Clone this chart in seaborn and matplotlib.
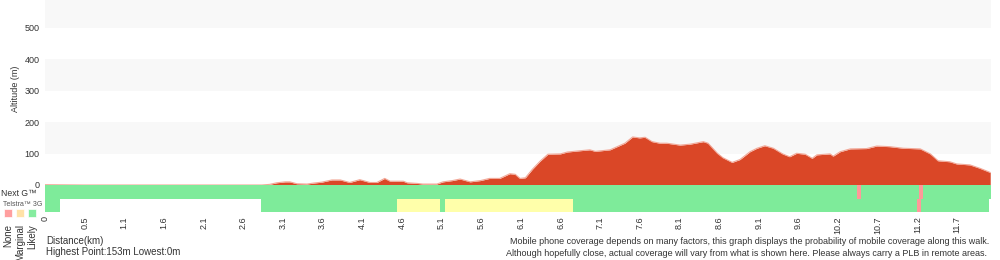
import matplotlib
matplotlib.use("Agg")
import matplotlib.pyplot as plt
import seaborn as sns
import pandas as pd

# ---- data ----
dist_km = [0.0, 0.5, 1.5, 2.5, 2.79, 2.89, 2.98, 3.09, 3.15, 3.24, 3.37, 3.45, 3.56, 3.69, 3.80,
           3.92, 4.05, 4.18, 4.27, 4.37, 4.44, 4.61, 4.66, 4.79, 4.86, 5.04, 5.12, 5.24,
           5.34, 5.47, 5.60, 5.72, 5.85, 5.92, 5.98, 6.05, 6.11, 6.18, 6.27, 6.37, 6.47,
           6.63, 6.72, 6.88, 7.01, 7.08, 7.27, 7.36, 7.46, 7.56, 7.65, 7.72, 7.81, 7.91,
           8.00, 8.17, 8.30, 8.47, 8.53, 8.65, 8.72, 8.84, 8.94, 9.07, 9.16, 9.26, 9.37,
           9.49, 9.58, 9.67, 9.78, 9.87, 9.93, 10.10, 10.14, 10.23, 10.36, 10.57, 10.70,
           10.87, 11.04, 11.26, 11.39, 11.49, 11.64, 11.73, 11.90, 12.03, 12.16]
elev_m = [1, 0, 0, 0, 0, 2, 7, 10, 10, 4, 3, 6, 9, 16, 16,
          8, 17, 8, 8, 21, 12, 12, 7, 5, 3, 3, 10, 14,
          19, 10, 14, 21, 21, 29, 36, 34, 21, 23, 50, 76, 98,
          99, 105, 109, 112, 107, 112, 122, 133, 153, 150, 152, 138, 133,
          133, 127, 130, 138, 133, 101, 87, 72, 81, 106, 117, 125, 117,
          99, 90, 101, 98, 85, 96, 99, 92, 106, 115, 116, 124,
          122, 117, 115, 99, 77, 74, 67, 64, 53, 40]

total_km = 12.17
tick_step_km = 0.5102
tick_labels = ["0", "0.5", "1.1", "1.6", "2.1", "2.6", "3.1", "3.6", "4.1", "4.6", "5.1",
               "5.6", "6.1", "6.6", "7.1", "7.6", "8.1", "8.6", "9.1", "9.6", "10.2",
               "10.7", "11.2", "11.7"]
y_ticks = [0, 100, 200, 300, 400, 500]

# coverage segments: (start km, end km, level)
nextg_segments = [(0.0, 10.45, "Likely"), (10.45, 10.50, "None"), (10.50, 11.24, "Likely"),
                  (11.24, 11.30, "None"), (11.30, 12.17, "Likely")]
g3_segments = [(0.0, 0.193, "Likely"), (2.78, 4.53, "Likely"), (4.53, 5.08, "Marginal"),
               (5.08, 5.15, "Likely"), (5.15, 6.79, "Marginal"), (6.79, 11.22, "Likely"),
               (11.22, 11.27, "None"), (11.27, 12.14, "Likely")]
legend_levels = ["None", "Marginal", "Likely"]

highest = 153
lowest = 0

# ---- style ----
sns.set_theme(style="white")
plt.rcParams["font.family"] = ["Liberation Sans", "DejaVu Sans"]

bar_colors = {"None": "#FF9999", "Marginal": "#FFFFAA", "Likely": "#7EEB9A"}
legend_colors = {"None": "#FF9A9A", "Marginal": "#FFE1A2", "Likely": "#7EEB9A"}
txt = "#333333"

fig = plt.figure(figsize=(10, 2.6), dpi=100)
ax = fig.add_axes([0.045, 1 - 185 / 260, 0.946, 185 / 260])
axc = fig.add_axes([0.045, 1 - 212 / 260, 0.946, 27 / 260])

ymax = 589
for lo in (100, 300, 500):
    ax.axhspan(lo, lo + 100, color="#F8F8F8", lw=0, zorder=0)

df = pd.DataFrame({"dist": dist_km, "elev": elev_m})
ax.fill_between(df["dist"], df["elev"], 0, color="#DA4727", lw=0, zorder=2)
sns.lineplot(data=df, x="dist", y="elev", ax=ax, color="#F2A898", lw=0.8, zorder=3)

ax.set_xlim(0, total_km)
ax.set_ylim(0, ymax)
ax.set_xticks([])
ax.set_yticks(y_ticks)
ax.set_yticklabels([str(v) for v in y_ticks], fontsize=6.5, color=txt)
ax.tick_params(axis="y", length=0, pad=4)
ax.set_xlabel("")
ax.set_ylabel("Altitude (m)", fontsize=6.5, color=txt)
ax.yaxis.set_label_coords(-0.0265, 0.52)
for s in ax.spines.values():
    s.set_visible(False)

# coverage rows
for row_y, segs in ((1, nextg_segments), (0, g3_segments)):
    for a, b, lvl in segs:
        axc.barh(row_y + 0.5, b - a, left=a, height=1.0, color=bar_colors[lvl], lw=0)
axc.set_xlim(0, total_km)
axc.set_ylim(0, 2)
axc.set_yticks([])
ticks = [i * tick_step_km for i in range(len(tick_labels))]
axc.set_xticks(ticks)
axc.set_xticklabels(tick_labels, rotation=90, fontsize=6.5, color=txt, va="top")
axc.tick_params(axis="x", length=0, pad=3)
for s in axc.spines.values():
    s.set_visible(False)

# left labels
fig.text(1 / 1000, 1 - 194 / 260, "Next G\u2122", fontsize=6.2, color=txt, va="center", ha="left")
fig.text(3 / 1000, 1 - 204.5 / 260, "Telstra\u2122 3G", fontsize=5, color="#555555", va="center", ha="left")
for i, lvl in enumerate(legend_levels):
    x0 = (4 + 12 * i) / 1000
    fig.patches.append(plt.Rectangle((x0, 1 - 217 / 260), 8 / 1000, 8 / 260,
                                     transform=fig.transFigure, facecolor=legend_colors[lvl],
                                     edgecolor="#FFFFFF", lw=0.5, alpha=0.95))
    fig.text((8 + 12 * i) / 1000, 1 - 224 / 260, lvl, rotation=90, fontsize=7, color=txt,
             ha="center", va="top")

fig.text(46 / 1000, 1 - 241 / 260, "Distance(km)", fontsize=7, color=txt, va="center")
fig.text(46 / 1000, 1 - 252 / 260, f"Highest Point:{highest}m Lowest:{lowest}m", fontsize=7,
         color=txt, va="center")
fig.text(989 / 1000, 1 - 242 / 260,
         "Mobile phone coverage depends on many factors, this graph displays the probability of mobile coverage along this walk.",
         fontsize=6.48, color=txt, va="center", ha="right")
fig.text(987 / 1000, 1 - 253 / 260,
         "Although hopefully close, actual coverage will vary from what is shown here. Please always carry a PLB in remote areas.",
         fontsize=6.48, color=txt, va="center", ha="right")

fig.savefig("out.png", dpi=100)
